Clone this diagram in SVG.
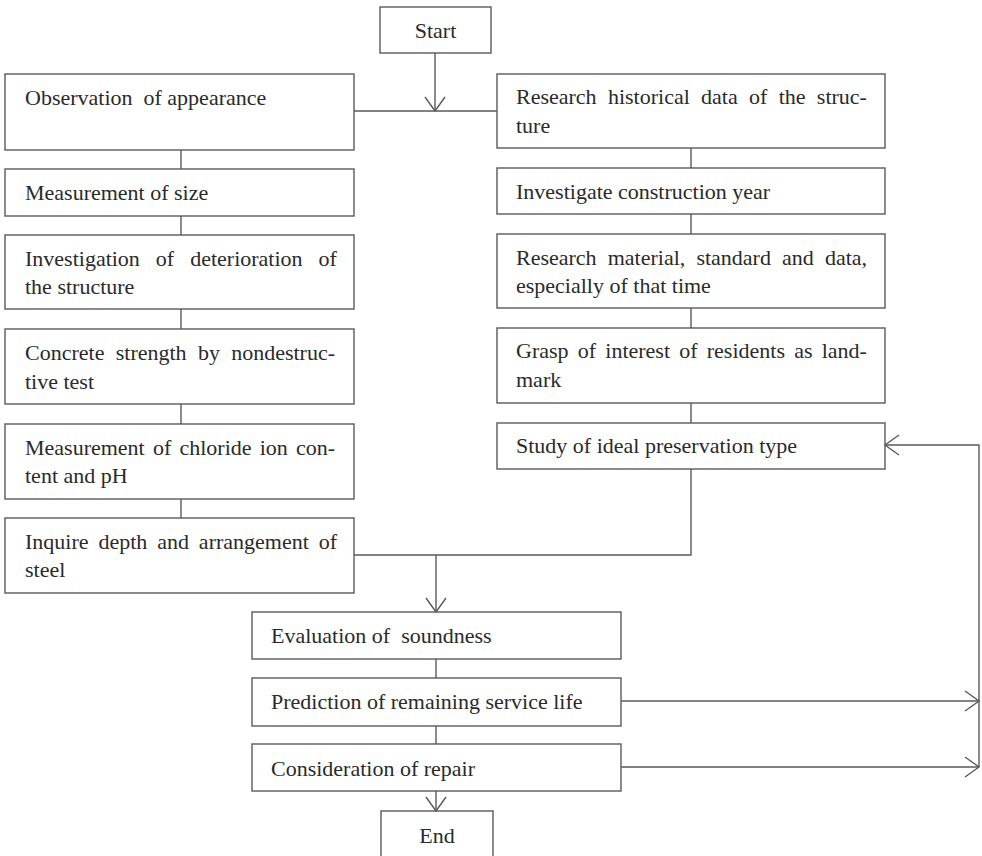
<svg xmlns="http://www.w3.org/2000/svg" width="982" height="856" viewBox="0 0 982 856">
  <style>
    .box { fill: none; stroke: #5a5a5a; stroke-width: 1.4; }
    .t { font-family: "Liberation Serif", "Times New Roman", serif; font-size: 22px; fill: #2a2a2a; }
    .c { text-anchor: middle; }
    .ln { fill: none; stroke: #5a5a5a; stroke-width: 1.4; }
  </style>
  <defs>
    <marker id="arr" markerUnits="userSpaceOnUse" markerWidth="20" markerHeight="24" viewBox="-15 -12 17 24" refX="0" refY="0" orient="auto">
      <path d="M-14,-10 L0,0 L-14,10" fill="none" stroke="#5a5a5a" stroke-width="1.4"/>
    </marker>
  </defs>
  <rect width="982" height="856" fill="#ffffff"/>

  <g id="start">
    <rect class="box" x="380" y="7" width="111" height="46"/>
    <text class="t c" x="435.5" y="38">Start</text>
  </g>

  <g id="observation">
    <rect class="box" x="5" y="74" width="349" height="76"/>
    <text class="t" x="25" y="105" xml:space="preserve">Observation  of appearance</text>
  </g>
  <g id="size">
    <rect class="box" x="5" y="169" width="349" height="47"/>
    <text class="t" x="25" y="200">Measurement of size</text>
  </g>
  <g id="deterioration">
    <rect class="box" x="5" y="235" width="349" height="74"/>
    <text class="t" x="25" y="266" word-spacing="10.5">Investigation of deterioration of</text>
    <text class="t" x="25" y="294">the structure</text>
  </g>
  <g id="concrete">
    <rect class="box" x="5" y="329" width="349" height="75"/>
    <text class="t" x="25" y="360" word-spacing="5.8">Concrete strength by nondestruc-</text>
    <text class="t" x="25" y="389">tive test</text>
  </g>
  <g id="chloride">
    <rect class="box" x="5" y="424" width="349" height="75"/>
    <text class="t" x="25" y="455" word-spacing="2.7">Measurement of chloride ion con-</text>
    <text class="t" x="25" y="483">tent and pH</text>
  </g>
  <g id="steel">
    <rect class="box" x="5" y="518" width="349" height="75"/>
    <text class="t" x="25" y="549" word-spacing="4.4">Inquire depth and arrangement of</text>
    <text class="t" x="25" y="577">steel</text>
  </g>

  <g id="historical">
    <rect class="box" x="497" y="74" width="388" height="74"/>
    <text class="t" x="516" y="104" word-spacing="5.8">Research historical data of the struc-</text>
    <text class="t" x="516" y="133">ture</text>
  </g>
  <g id="year">
    <rect class="box" x="497" y="168" width="388" height="46"/>
    <text class="t" x="516" y="199">Investigate construction year</text>
  </g>
  <g id="material">
    <rect class="box" x="497" y="234" width="388" height="74"/>
    <text class="t" x="516" y="265" word-spacing="5.6">Research material, standard and data,</text>
    <text class="t" x="516" y="293">especially of that time</text>
  </g>
  <g id="residents">
    <rect class="box" x="497" y="328" width="388" height="75"/>
    <text class="t" x="516" y="358" word-spacing="3.7">Grasp of interest of residents as land-</text>
    <text class="t" x="516" y="387">mark</text>
  </g>
  <g id="preservation">
    <rect class="box" x="497" y="423" width="388" height="46"/>
    <text class="t" x="516" y="453">Study of ideal preservation type</text>
  </g>

  <g id="soundness">
    <rect class="box" x="252" y="612" width="369" height="47"/>
    <text class="t" x="271" y="643" xml:space="preserve">Evaluation of  soundness</text>
  </g>
  <g id="servicelife">
    <rect class="box" x="252" y="678" width="369" height="48"/>
    <text class="t" x="271" y="709">Prediction of remaining service life</text>
  </g>
  <g id="repair">
    <rect class="box" x="252" y="744" width="369" height="47"/>
    <text class="t" x="271" y="776">Consideration of repair</text>
  </g>
  <g id="end">
    <rect class="box" x="381" y="811" width="112" height="52"/>
    <text class="t c" x="437" y="843">End</text>
  </g>

  <g id="connectors">
    <path class="ln" d="M435,53 V111" marker-end="url(#arr)"/>
    <path class="ln" d="M354,111 H497"/>
    <path class="ln" d="M181,150 V169 M181,216 V235 M181,309 V329 M181,404 V424 M181,499 V518"/>
    <path class="ln" d="M691,148 V168 M691,214 V234 M691,308 V328 M691,403 V423"/>
    <path class="ln" d="M691,469 V555 H354"/>
    <path class="ln" d="M436,555 V612" marker-end="url(#arr)"/>
    <path class="ln" d="M436,659 V678 M436,726 V744"/>
    <path class="ln" d="M436,791 V811" marker-end="url(#arr)"/>
    <path class="ln" d="M621,701 H979" marker-end="url(#arr)"/>
    <path class="ln" d="M621,767 H979" marker-end="url(#arr)"/>
    <path class="ln" d="M979,767 V445 H885" marker-end="url(#arr)"/>
  </g>
</svg>
